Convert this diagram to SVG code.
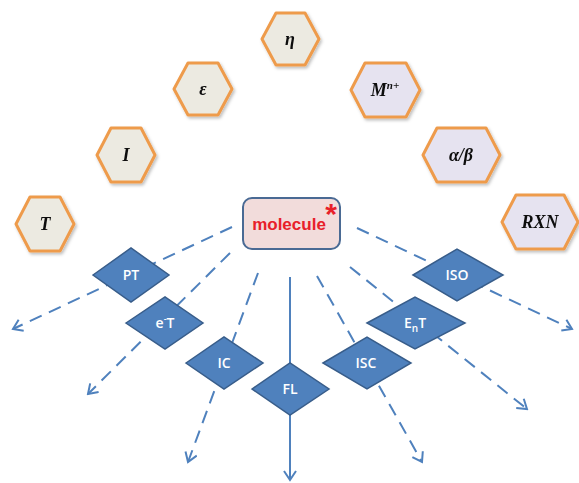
<svg xmlns="http://www.w3.org/2000/svg" width="579" height="483" viewBox="0 0 579 483">
<style>
.hex{stroke:#EE9B4C;stroke-width:3;stroke-linejoin:round}
.hl{fill:#ECEAE1}
.hr{fill:#E6E3F0}
.ht{font-family:"Liberation Serif",serif;font-style:italic;font-weight:bold;font-size:18px;fill:#111;text-anchor:middle}
.dia{fill:#4F81BD;stroke:#385D8A;stroke-width:1.5}
.dt{font-family:"Open Sans","Liberation Sans",Arial,sans-serif;font-weight:600;font-size:14px;fill:#fff;text-anchor:middle}
.dash{fill:none;stroke:#4F81BD;stroke-width:2;stroke-dasharray:13 8}
.solid{fill:none;stroke:#4F81BD;stroke-width:2}
</style>
<defs>
<marker id="arr" markerWidth="12" markerHeight="14" refX="10" refY="7" orient="auto" markerUnits="userSpaceOnUse" viewBox="0 0 12 14">
<path d="M1 1 L10 7 L1 13" fill="none" stroke="#4F81BD" stroke-width="2" stroke-dasharray="none"/>
</marker>
<filter id="sh" x="-20%" y="-20%" width="140%" height="140%">
<feDropShadow dx="1.5" dy="2" stdDeviation="1.5" flood-color="#000" flood-opacity="0.25"/>
</filter>
</defs>

<g id="connectors">
<path class="dash" d="M232 227 L13 329" marker-end="url(#arr)"/>
<path class="dash" d="M230 253 L88 394" marker-end="url(#arr)"/>
<path class="dash" d="M258 273 L188 462" marker-end="url(#arr)"/>
<path class="solid" d="M290 277 L290 480" marker-end="url(#arr)"/>
<path class="dash" d="M317 276 L422 462" marker-end="url(#arr)"/>
<path class="dash" d="M350 267 L527 409" marker-end="url(#arr)"/>
<path class="dash" d="M357 228 L572 329" marker-end="url(#arr)"/>
</g>

<g id="n-eta" filter="url(#sh)"><polygon class="hex hl" points="262,39 276,13 305,13 319,39 305,65 276,65"/><text class="ht" x="290" y="45">η</text></g>
<g id="n-eps" filter="url(#sh)"><polygon class="hex hl" points="174,89 188,63 218,63 232,89 218,115 188,115"/><text class="ht" x="203" y="95">ε</text></g>
<g id="n-I" filter="url(#sh)"><polygon class="hex hl" points="97,155 111,128 141,128 155,155 141,182 111,182"/><text class="ht" x="126" y="161">I</text></g>
<g id="n-T" filter="url(#sh)"><polygon class="hex hl" points="16,224 30,197 60,197 74,224 60,251 30,251"/><text class="ht" x="45" y="230">T</text></g>
<g id="n-M" filter="url(#sh)"><polygon class="hex hr" points="351,90 365,63 406,63 420,90 406,117 365,117"/><text class="ht" x="385" y="96">M<tspan font-size="11" dy="-7">n+</tspan></text></g>
<g id="n-ab" filter="url(#sh)"><polygon class="hex hr" points="423,155 437,128 486,128 500,155 486,182 437,182"/><text class="ht" x="461" y="161">α/β</text></g>
<g id="n-RXN" filter="url(#sh)"><polygon class="hex hr" points="502,222 516,195 564,195 578,222 564,249 516,249"/><text class="ht" x="540" y="228">RXN</text></g>

<g id="n-molecule">
<rect x="243" y="198" width="97" height="51" rx="9" fill="#F2DCDB" stroke="#4A6A94" stroke-width="2"/>
<text x="289" y="230" font-family="Liberation Sans,Arial,sans-serif" font-weight="bold" font-size="17" fill="#E8202A" text-anchor="middle">molecule</text>
<text x="331" y="224" font-family="Liberation Sans,Arial,sans-serif" font-weight="bold" font-size="30" fill="#E8202A" text-anchor="middle">*</text>
</g>

<g id="n-PT"><polygon class="dia" points="93,275 131,248 169,275 131,302"/><text class="dt" x="131" y="280">PT</text></g>
<g id="n-eT"><polygon class="dia" points="126,323 165,297 203,323 165,349"/><text class="dt" x="165" y="328">e<tspan font-size="9" dy="-6">-</tspan><tspan dy="6">T</tspan></text></g>
<g id="n-IC"><polygon class="dia" points="186,363 224,337 263,363 224,389"/><text class="dt" x="224" y="368">IC</text></g>
<g id="n-FL"><polygon class="dia" points="252,389 290,363 329,389 290,415"/><text class="dt" x="290" y="394">FL</text></g>
<g id="n-ISC"><polygon class="dia" points="323,363 367,337 411,363 367,389"/><text class="dt" x="366" y="368">ISC</text></g>
<g id="n-EnT"><polygon class="dia" points="367,323 415,297 465,323 415,349"/><text class="dt" x="415" y="328">E<tspan font-size="10" dy="4">n</tspan><tspan dy="-4">T</tspan></text></g>
<g id="n-ISO"><polygon class="dia" points="413,275 457,249 503,275 457,301"/><text class="dt" x="457" y="280">ISO</text></g>
</svg>
